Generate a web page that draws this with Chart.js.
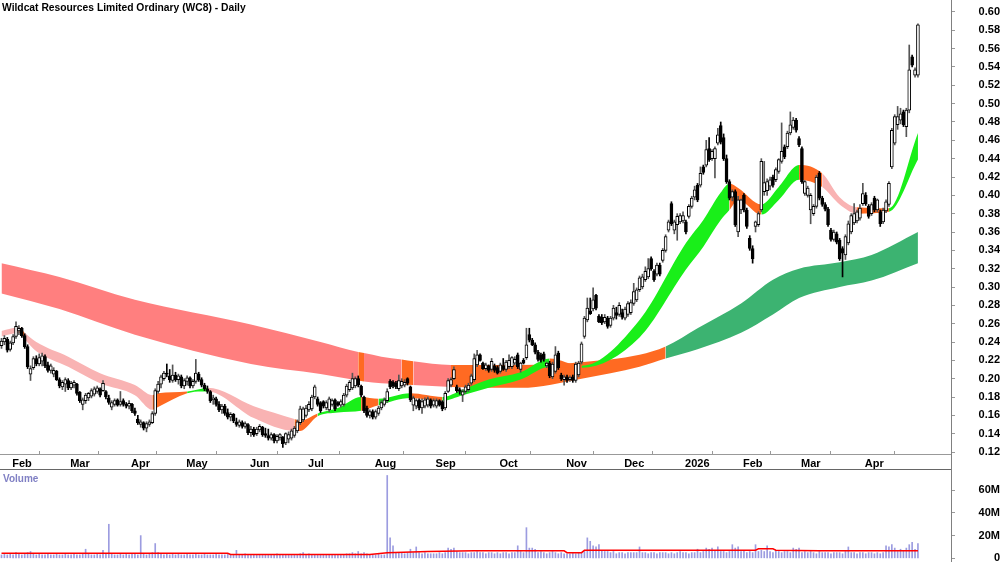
<!DOCTYPE html>
<html>
<head>
<meta charset="utf-8">
<title>WC8 Daily</title>
<script src="https://cdn.jsdelivr.net/npm/chart.js@4.4.1/dist/chart.umd.min.js"></script>
<style>
  html, body { margin: 0; padding: 0; background: #fff; }
  #wrap { position: relative; width: 1000px; height: 562px; overflow: hidden; }
  #priceBox { position: absolute; left: 0; top: 0; width: 1000px; height: 469px; }
  #volBox { position: absolute; left: 0; top: 469px; width: 1000px; height: 93px; }
  #title { position: absolute; left: 2px; top: 2px; font: bold 10.3px "Liberation Sans", Arial, sans-serif; color: #000; white-space: nowrap; }
  #volTitle { position: absolute; left: 3px; top: 473px; font: bold 10px "Liberation Sans", Arial, sans-serif; color: #8080c4; }
  #axisGap { position: absolute; left: 951px; top: 454px; width: 1px; height: 15px; background: #808080; }
</style>
</head>
<body>
<div id="wrap">
  <div id="priceBox"><canvas id="price" width="1000" height="469"></canvas></div>
  <div id="volBox"><canvas id="vol" width="1000" height="93"></canvas></div>
  <div id="axisGap"></div>
  <div id="title">Wildcat Resources Limited Ordinary (WC8) - Daily</div>
  <div id="volTitle">Volume</div>
</div>
<script>
// month ticks (trading day index of first day in month)
const monthTickIdx = [3, 23, 44, 63, 85, 105, 128, 149, 171, 194, 214, 235, 255, 275, 297];
const monthLabels = ['Feb', 'Mar', 'Apr', 'May', 'Jun', 'Jul', 'Aug', 'Sep', 'Oct', 'Nov', 'Dec', '2026', 'Feb', 'Mar', 'Apr'];
const priceTicks = [0.12, 0.14, 0.16, 0.18, 0.20, 0.22, 0.24, 0.26, 0.28, 0.30, 0.32, 0.34, 0.36, 0.38, 0.40, 0.42, 0.44, 0.46, 0.48, 0.50, 0.52, 0.54, 0.56, 0.58, 0.60];
const volumeTicks = [0, 20, 40, 60];
const volumeTickLabels = ['0', '20M', '40M', '60M'];

// daily candles
const opens = [
  .236,.240,.243,.232,.239,.246,.252,.255,.247,.235,.205,.212,.222,.216,.219,.224,.215,.209,.205,.208,
  .199,.191,.194,.198,.190,.193,.194,.185,.172,.176,.179,.181,.183,.186,.189,.187,.186,.179,.169,.172,
  .177,.172,.176,.172,.170,.172,.165,.156,.150,.152,.146,.150,.152,.162,.186,.194,.200,.206,.203,.198,
  .204,.199,.202,.192,.197,.201,.192,.197,.205,.199,.193,.189,.186,.177,.178,.172,.166,.170,.163,.158,
  .161,.153,.149,.152,.148,.150,.141,.145,.140,.144,.147,.140,.138,.135,.139,.132,.136,.136,.130,.134,
  .135,.138,.143,.152,.155,.160,.166,.167,.180,.178,.174,.175,.168,.166,.172,.177,.174,.171,.172,.182,
  .188,.190,.192,.200,.192,.180,.168,.160,.164,.158,.162,.168,.172,.176,.197,.196,.195,.189,.192,.193,
  .200,.191,.171,.170,.177,.168,.170,.171,.177,.171,.170,.176,.175,.168,.186,.193,.200,.191,.188,.182,
  .186,.188,.195,.199,.215,.226,.217,.211,.214,.210,.214,.212,.208,.214,.210,.213,.213,.217,.226,.210,
  .220,.223,.248,.242,.237,.229,.226,.227,.214,.217,.202,.208,.228,.204,.199,.202,.199,.202,.198,.204,
  .218,.246,.264,.274,.276,.291,.268,.267,.262,.266,.258,.266,.272,.270,.272,.266,.270,.272,.282,.286,
  .297,.300,.308,.311,.331,.317,.314,.324,.329,.340,.362,.391,.362,.368,.371,.372,.371,.377,.388,.398,
  .411,.411,.431,.433,.451,.440,.440,.457,.476,.463,.440,.415,.398,.404,.360,.384,.400,.384,.353,.342,
  .366,.368,.384,.404,.405,.410,.420,.417,.426,.437,.453,.453,.468,.474,.482,.462,.451,.402,.400,.384,
  .380,.388,.424,.397,.390,.385,.362,.352,.358,.351,.342,.335,.348,.360,.370,.372,.375,.391,.400,.388,
  .380,.397,.384,.382,.371,.383,.390,.431,.457,.477,.482,.491,.475,.493,.551,.531,.531
];
const highs = [
  .244,.247,.245,.241,.248,.262,.258,.256,.249,.237,.214,.224,.225,.227,.228,.226,.218,.216,.212,.209,
  .201,.198,.201,.200,.197,.198,.195,.186,.179,.184,.185,.189,.191,.192,.190,.198,.187,.182,.176,.178,
  .178,.186,.178,.174,.176,.173,.168,.160,.155,.153,.153,.155,.164,.189,.197,.204,.208,.216,.210,.215,
  .207,.205,.204,.200,.203,.202,.199,.221,.207,.201,.195,.192,.187,.182,.180,.175,.172,.172,.167,.163,
  .162,.157,.155,.154,.153,.151,.148,.147,.147,.150,.148,.146,.145,.141,.140,.139,.140,.137,.141,.142,
  .145,.148,.155,.170,.169,.171,.175,.182,.193,.180,.175,.176,.176,.180,.178,.178,.175,.177,.184,.194,
  .198,.206,.202,.203,.193,.181,.170,.166,.166,.166,.170,.176,.179,.189,.199,.198,.197,.204,.200,.199,
  .201,.192,.181,.178,.178,.178,.179,.180,.178,.178,.178,.177,.176,.186,.200,.201,.213,.193,.190,.188,
  .193,.195,.205,.227,.231,.227,.218,.217,.215,.222,.216,.214,.217,.222,.220,.226,.224,.224,.228,.218,
  .222,.255,.255,.244,.239,.231,.228,.229,.218,.219,.218,.235,.230,.206,.204,.204,.203,.204,.218,.219,
  .240,.268,.288,.288,.299,.292,.270,.270,.270,.268,.268,.280,.278,.283,.276,.278,.284,.286,.304,.299,
  .312,.314,.322,.331,.333,.319,.326,.326,.342,.357,.373,.393,.373,.380,.380,.382,.373,.390,.399,.410,
  .413,.431,.433,.460,.463,.450,.453,.473,.480,.467,.444,.417,.406,.406,.399,.396,.402,.386,.356,.345,
  .372,.382,.440,.437,.418,.420,.422,.430,.440,.479,.455,.470,.491,.485,.484,.464,.453,.416,.410,.402,
  .390,.422,.426,.399,.392,.387,.364,.362,.360,.353,.344,.357,.372,.380,.391,.384,.390,.413,.403,.390,
  .392,.399,.396,.384,.386,.395,.415,.473,.488,.497,.495,.493,.495,.564,.553,.539,.587
];
const lows = [
  .233,.237,.229,.230,.237,.244,.248,.245,.233,.211,.198,.210,.214,.214,.214,.212,.207,.206,.202,.198,
  .190,.188,.186,.188,.188,.190,.182,.174,.166,.173,.176,.179,.181,.184,.180,.186,.178,.172,.166,.170,
  .170,.170,.170,.168,.167,.163,.160,.150,.147,.144,.142,.148,.151,.160,.184,.190,.198,.202,.196,.196,
  .197,.194,.190,.189,.193,.190,.190,.195,.197,.191,.187,.184,.174,.172,.170,.164,.162,.160,.156,.154,
  .152,.148,.147,.146,.146,.139,.137,.137,.138,.142,.137,.136,.133,.133,.130,.130,.133,.125,.128,.130,
  .133,.136,.141,.150,.153,.158,.164,.165,.178,.170,.163,.168,.166,.164,.170,.165,.170,.169,.170,.180,
  .186,.188,.190,.191,.180,.163,.158,.157,.156,.156,.160,.166,.170,.174,.189,.190,.189,.187,.190,.191,
  .193,.175,.165,.167,.166,.162,.168,.169,.168,.169,.168,.170,.165,.166,.185,.191,.199,.185,.183,.175,
  .184,.186,.193,.197,.213,.219,.210,.209,.207,.208,.207,.205,.206,.209,.208,.211,.211,.215,.211,.207,
  .216,.221,.240,.236,.227,.219,.218,.219,.212,.201,.200,.206,.210,.198,.193,.196,.197,.196,.196,.202,
  .216,.244,.262,.270,.274,.275,.261,.259,.260,.255,.256,.264,.265,.268,.265,.264,.268,.270,.280,.284,
  .295,.298,.306,.309,.318,.306,.312,.312,.327,.338,.360,.367,.358,.351,.369,.370,.358,.375,.386,.395,
  .393,.409,.423,.431,.437,.438,.419,.455,.456,.438,.413,.395,.394,.366,.355,.380,.382,.364,.340,.326,
  .360,.366,.382,.400,.400,.406,.409,.415,.424,.435,.440,.451,.466,.472,.469,.453,.413,.400,.398,.369,
  .378,.386,.395,.388,.383,.366,.350,.350,.347,.329,.311,.330,.346,.358,.368,.370,.373,.389,.389,.375,
  .378,.382,.382,.366,.369,.381,.388,.429,.455,.472,.478,.475,.464,.490,.540,.529,.529
];
const closes = [
  .241,.244,.231,.239,.246,.257,.255,.247,.235,.213,.211,.222,.216,.223,.225,.214,.209,.214,.209,.199,
  .192,.196,.199,.190,.195,.196,.184,.176,.177,.182,.184,.187,.189,.190,.182,.195,.180,.174,.174,.176,
  .171,.175,.172,.170,.173,.165,.162,.152,.153,.146,.151,.153,.162,.187,.194,.202,.206,.205,.199,.204,
  .199,.203,.192,.198,.201,.192,.197,.206,.199,.193,.189,.186,.176,.179,.172,.166,.170,.162,.158,.161,
  .154,.150,.153,.148,.151,.141,.145,.139,.145,.148,.139,.138,.135,.139,.132,.137,.139,.129,.140,.139,
  .143,.146,.153,.167,.167,.168,.172,.180,.191,.172,.165,.170,.174,.178,.176,.167,.171,.175,.182,.192,
  .196,.200,.200,.193,.182,.165,.160,.164,.158,.164,.168,.174,.177,.186,.191,.192,.191,.198,.197,.196,
  .195,.177,.179,.176,.168,.175,.177,.178,.170,.176,.176,.171,.167,.184,.198,.199,.210,.187,.186,.186,
  .191,.193,.203,.222,.226,.220,.211,.215,.209,.219,.209,.206,.215,.210,.218,.220,.223,.221,.213,.217,
  .217,.237,.242,.237,.229,.221,.220,.221,.217,.203,.216,.226,.212,.200,.202,.198,.201,.198,.216,.217,
  .238,.266,.277,.271,.286,.277,.262,.261,.267,.257,.266,.277,.269,.280,.267,.276,.282,.283,.295,.297,
  .310,.311,.317,.320,.320,.308,.324,.314,.340,.355,.371,.369,.371,.377,.378,.378,.360,.388,.397,.406,
  .395,.424,.425,.450,.439,.448,.451,.466,.458,.440,.415,.397,.404,.368,.395,.395,.384,.366,.342,.331,
  .371,.380,.437,.414,.415,.417,.411,.428,.439,.448,.442,.468,.477,.482,.471,.455,.415,.415,.408,.400,
  .388,.420,.397,.390,.385,.368,.352,.360,.349,.331,.337,.355,.369,.378,.380,.382,.386,.402,.391,.377,
  .390,.384,.395,.369,.384,.393,.413,.471,.486,.486,.489,.477,.493,.537,.542,.537,.586
];

// daily volume, millions
const volumes = [
  3,4,3,4,3,5,4,3,4,5,6,4,3,4,3,3,4,3,3,4,
  3,3,4,3,3,4,3,3,4,8,4,3,3,4,3,7,4,30,4,3,
  3,4,3,4,3,4,4,3,20,4,3,4,5,13,5,4,3,4,3,4,
  3,4,3,3,4,3,3,4,3,3,4,3,3,3,4,3,3,3,4,3,
  3,7,3,3,4,3,3,3,3,3,3,3,3,3,3,4,3,3,3,3,
  3,3,3,4,5,3,4,3,3,3,3,3,3,3,3,3,3,3,3,4,
  4,5,4,6,4,5,4,3,3,3,4,3,3,73,18,11,5,5,5,4,
  5,8,5,10,5,4,5,4,4,4,4,5,4,5,9,8,9,6,5,5,
  5,4,5,5,6,5,5,4,5,5,4,5,4,5,5,4,5,5,11,6,
  5,27,9,9,8,5,6,5,4,5,6,5,4,5,4,4,4,5,4,5,
  5,6,18,15,11,10,12,7,6,6,5,6,4,5,5,4,5,5,5,5,
  10,5,5,4,5,5,4,5,5,5,4,5,4,5,6,5,5,4,5,5,
  8,5,6,9,8,9,7,10,6,6,5,6,12,9,10,6,7,5,6,5,
  12,6,7,6,11,6,5,7,6,5,6,6,5,9,8,9,5,6,5,6,
  5,4,6,5,5,5,4,5,5,5,4,6,10,5,5,4,5,5,4,5,
  5,4,5,4,5,11,10,12,9,6,8,7,9,12,14,8,13
];
// volume average line (red)
const volAvgIdx = [0, 78, 79, 127, 133, 147, 163, 194, 195, 200, 201, 260, 261, 266, 267, 282, 316];
const volAvg    = [4.5, 4.5, 3.4, 3.4, 4.8, 6.0, 6.6, 6.6, 5.0, 5.0, 7.0, 7.2, 8.4, 8.4, 7.2, 6.6, 6.6];

// short-term band
const shortBandIdx = [0, 6, 8, 12, 23, 34, 46, 52, 54, 64, 69, 71, 87, 101, 103, 109, 116, 124, 130, 141, 152, 159, 168, 179, 189, 200, 220, 236, 242, 248, 251, 254, 262, 268, 275, 283, 289, 295, 306, 316];
const shortBandTop = [.252,.256,.250,.240,.224,.206,.193,.182,.184,.186,.189,.190,.170,.156,.154,.162,.168,.180,.178,.184,.180,.188,.199,.207,.222,.214,.264,.348,.373,.403,.413,.408,.390,.409,.433,.424,.398,.387,.386,.468];
const shortBandBottom = [.246,.250,.243,.230,.213,.195,.182,.166,.169,.184,.186,.186,.157,.143,.143,.159,.163,.165,.171,.179,.176,.182,.190,.199,.213,.212,.245,.319,.344,.373,.384,.395,.379,.395,.417,.409,.390,.380,.382,.439];
const shortBandTrend = ['down','mixed','down','down','down','down','down','mixed','mixed','up','up','down','down','mixed','mixed','up','up','mixed','up','mixed','up','up','up','up','mixed','up','up','up','up','up','mixed','mixed','up','up','mixed','down','down','mixed','up','up'];

// long-term band
const longBandIdx = [0, 20, 46, 86, 110, 123, 125, 131, 138, 142, 155, 179, 200, 220, 229, 240, 255, 266, 275, 289, 300, 316];
const longBandTop = [.326,.311,.286,.259,.240,.229,.228,.224,.221,.219,.215,.215,.218,.226,.235,.255,.282,.308,.320,.327,.335,.360];
const longBandBottom = [.293,.276,.248,.216,.205,.198,.197,.195,.194,.193,.191,.190,.200,.213,.222,.232,.250,.270,.288,.300,.307,.326];
const longBandTrend = ['down','down','down','down','down','mixed','down','down','mixed','down','mixed','mixed','mixed','mixed','up','up','up','up','up','up','up','up'];

Chart.defaults.font.family = '"Liberation Sans", Arial, sans-serif';

const xMin = -0.52, xMax = 327.4;
const axisFont = { size: 11, weight: 'bold' };
const shortColors = { down: '#f9b3b3', mixed: '#ff6a22', up: '#19ef19' };
const longColors = { down: '#ff7f7f', mixed: '#ff6a22', up: '#3cb371' };

const dayIdx = closes.map((c, i) => i);
const isUp = closes.map((c, i) => c >= opens[i]);
const pts = (xs, ys) => xs.map((x, k) => ({ x: x, y: ys[k] }));

function noPad(s) {
  s.paddingTop = 0; s.paddingBottom = 0; s.paddingLeft = 0; s.paddingRight = 0;
}

function bandPair(xs, top, bottom, trend, colors, order) {
  return [
    { type: 'line', data: pts(xs, bottom), borderColor: 'rgba(0,0,0,0)', borderWidth: 0,
      pointRadius: 0, fill: false, cubicInterpolationMode: 'monotone', order: order + 1 },
    { type: 'line', data: pts(xs, top), borderColor: 'rgba(0,0,0,0)', borderWidth: 0,
      pointRadius: 0, fill: '-1', backgroundColor: colors.down, cubicInterpolationMode: 'monotone', order: order,
      segment: { backgroundColor: ctx => colors[trend[ctx.p0DataIndex]] } }
  ];
}

new Chart(document.getElementById('price'), {
  type: 'bar',
  data: {
    datasets: [
      ...bandPair(longBandIdx, longBandTop, longBandBottom, longBandTrend, longColors, 30),
      ...bandPair(shortBandIdx, shortBandTop, shortBandBottom, shortBandTrend, shortColors, 20),
      {
        type: 'bar', order: 2, grouped: false, barThickness: 1, borderWidth: 0,
        data: dayIdx.map(i => ({ x: i, y: [lows[i], highs[i]] })),
        backgroundColor: dayIdx.map(i => isUp[i] ? '#555' : '#000')
      },
      {
        type: 'bar', order: 1, grouped: false, barThickness: 3, minBarLength: 1,
        borderWidth: 1, borderColor: '#000', borderSkipped: false,
        data: dayIdx.map(i => ({ x: i, y: [Math.min(opens[i], closes[i]), Math.max(opens[i], closes[i])] })),
        backgroundColor: dayIdx.map(i => isUp[i] ? '#fff' : '#000')
      }
    ]
  },
  options: {
    responsive: false, animation: false, events: [],
    layout: { padding: 0, autoPadding: false },
    plugins: { legend: { display: false }, tooltip: { enabled: false } },
    scales: {
      x: {
        type: 'linear', min: xMin, max: xMax, offset: false, position: 'bottom',
        afterBuildTicks: s => { s.ticks = monthTickIdx.map(v => ({ value: v })); },
        afterFit: s => { s.height = 15; noPad(s); },
        ticks: { autoSkip: false, maxRotation: 0, align: 'start', labelOffset: 2, padding: 6,
                 color: '#000', font: axisFont, callback: (v, i) => monthLabels[i] },
        grid: { drawOnChartArea: false, drawTicks: true, tickLength: -3, color: '#999' },
        border: { display: true, color: '#999' }
      },
      y: {
        type: 'linear', position: 'right', min: 0.11782, max: 0.61309,
        afterBuildTicks: s => { s.ticks = priceTicks.map(v => ({ value: v })); },
        afterFit: s => { s.width = 49; noPad(s); },
        ticks: { padding: 20, crossAlign: 'far', color: '#000', font: axisFont,
                 callback: v => v.toFixed(2) },
        grid: { drawOnChartArea: false, tickLength: 4, color: '#999' },
        border: { display: true, color: '#808080' }
      }
    }
  }
});

new Chart(document.getElementById('vol'), {
  type: 'bar',
  data: {
    datasets: [
      {
        type: 'line', order: 1, data: pts(volAvgIdx, volAvg), borderColor: '#ff0000', borderWidth: 1.5,
        pointRadius: 0, fill: false, tension: 0
      },
      {
        type: 'bar', order: 2, grouped: false, barThickness: 1, borderWidth: 0,
        data: dayIdx.map(i => ({ x: i, y: volumes[i] })),
        backgroundColor: '#9c9ce0'
      }
    ]
  },
  options: {
    responsive: false, animation: false, events: [],
    layout: { padding: 0, autoPadding: false },
    plugins: { legend: { display: false }, tooltip: { enabled: false } },
    scales: {
      x: {
        type: 'linear', min: xMin, max: xMax, offset: false, position: 'top',
        afterFit: s => { s.height = 0; noPad(s); },
        ticks: { display: false },
        grid: { display: false },
        border: { display: true, color: '#666' }
      },
      y: {
        type: 'linear', position: 'right', min: -3.26, max: 78.7,
        afterBuildTicks: s => { s.ticks = volumeTicks.map(v => ({ value: v })); },
        afterFit: s => { s.width = 49; noPad(s); },
        ticks: { padding: 20, crossAlign: 'far', color: '#000', font: axisFont,
                 callback: (v, i) => volumeTickLabels[i] },
        grid: { drawOnChartArea: false, tickLength: 4, color: '#999' },
        border: { display: true, color: '#808080' }
      }
    }
  }
});
</script>
</body>
</html>
